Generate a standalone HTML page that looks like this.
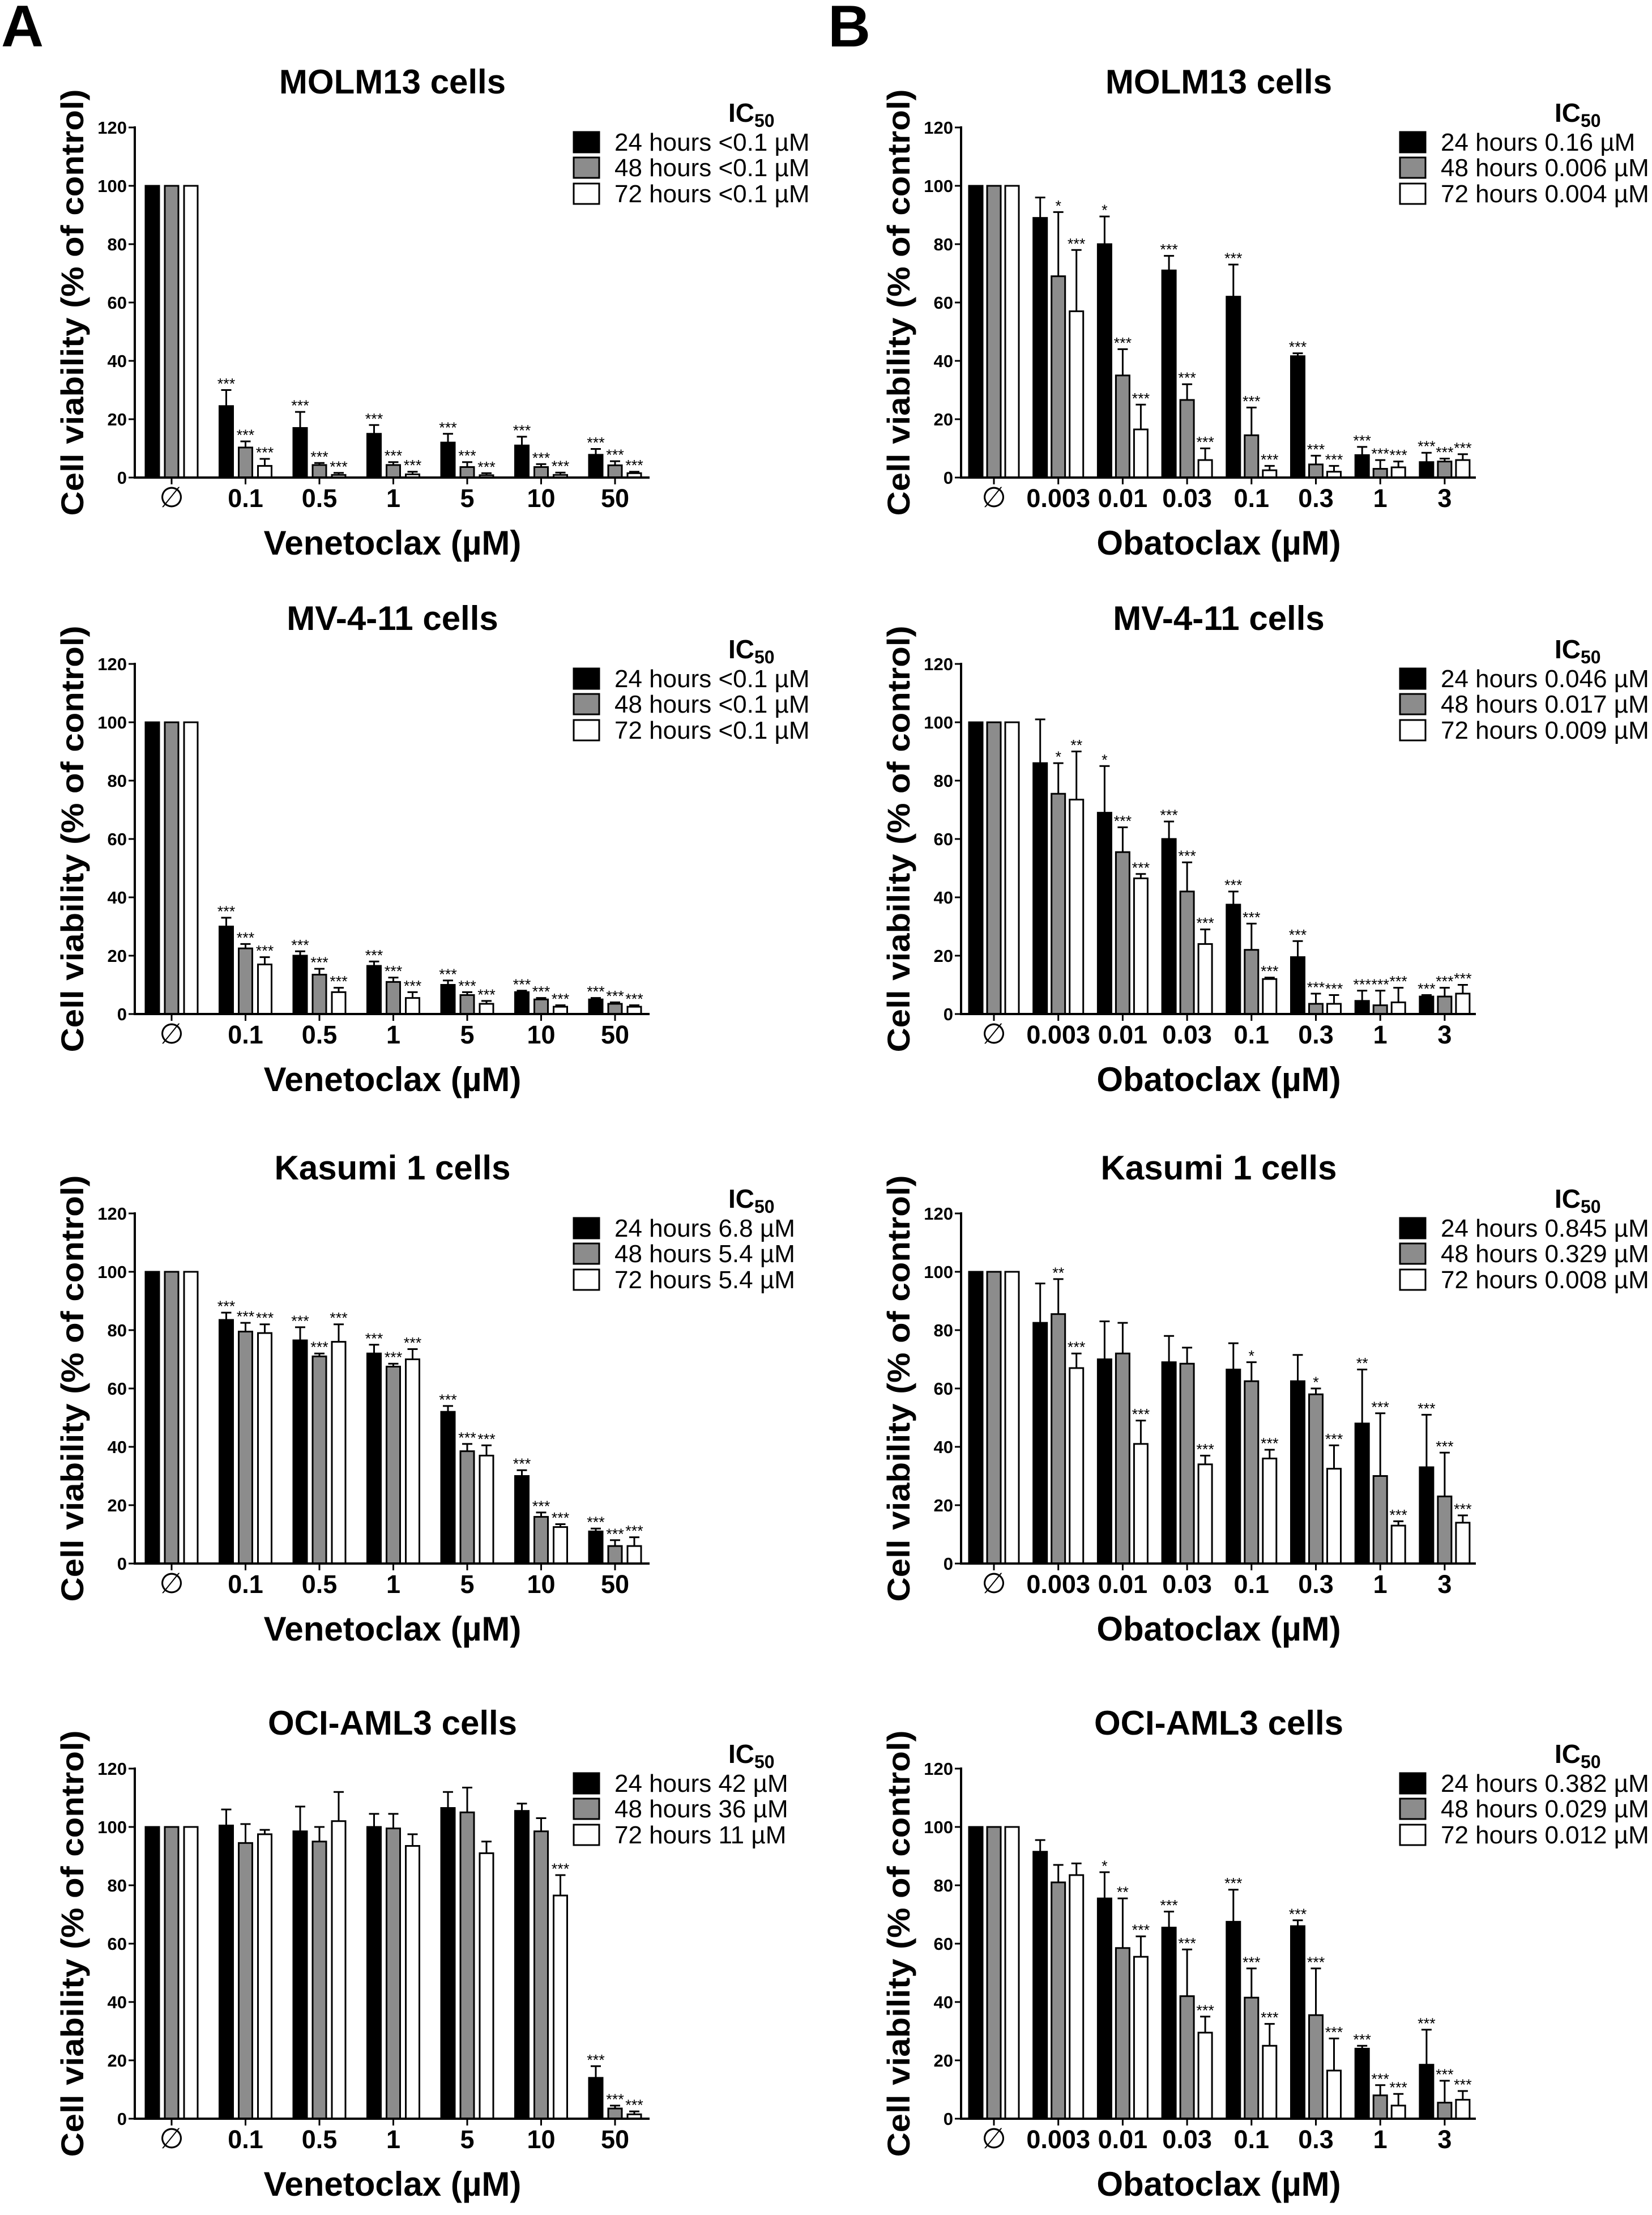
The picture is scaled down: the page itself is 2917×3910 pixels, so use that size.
<!DOCTYPE html>
<html><head><meta charset="utf-8"><title>Cell viability charts</title>
<style>
html,body{margin:0;padding:0;background:#fff;}
svg{display:block;font-family:"Liberation Sans",Arial,sans-serif;}
</style></head>
<body>
<svg id="fig" width="2917" height="3910" viewBox="0 0 2917 3910" xmlns="http://www.w3.org/2000/svg">
<text x="2" y="82" font-size="104" font-weight="bold">A</text>
<text x="1462" y="82" font-size="104" font-weight="bold">B</text>
</svg>
<script>
// ---------- data ----------
const venCats=["∅","0.1","0.5","1","5","10","50"];
const obaCats=["∅","0.003","0.01","0.03","0.1","0.3","1","3"];
const yTicks=[0,20,40,60,80,100,120];
const seriesNames=["24 hours","48 hours","72 hours"];

// MOLM13 venetoclax
const a1Mean24=[100,24.5,17,15,12,11,7.8];
const a1Err24=[100,30,22.5,18,15,14,9.8];
const a1Mean48=[100,10.3,4.3,4.3,3.6,3.6,4.2];
const a1Err48=[100,12.4,5,5.3,5.3,4.6,5.6];
const a1Mean72=[100,4,0.9,1.1,0.8,0.9,1.5];
const a1Err72=[100,6.4,1.6,2,1.5,1.7,2];
const a1Sig24=["","***","***","***","***","***","***"];
const a1Sig48=["","***","***","***","***","***","***"];
const a1Sig72=["","***","***","***","***","***","***"];
const a1Ic=["<0.1 µM","<0.1 µM","<0.1 µM"];

// MV-4-11 venetoclax
const a2Mean24=[100,30,20,16.5,10,7.5,5];
const a2Err24=[100,33,21.5,18,11.5,8,5.5];
const a2Mean48=[100,22.5,13.5,11,6.5,5,3.5];
const a2Err48=[100,24,15.5,12.5,7.5,5.5,4];
const a2Mean72=[100,17,7.5,5.5,3.5,2.5,2.5];
const a2Err72=[100,19.5,9,7.5,4.5,3,3];
const a2Sig24=["","***","***","***","***","***","***"];
const a2Sig48=["","***","***","***","***","***","***"];
const a2Sig72=["","***","***","***","***","***","***"];
const a2Ic=["<0.1 µM","<0.1 µM","<0.1 µM"];

// Kasumi 1 venetoclax
const a3Mean24=[100,83.5,76.5,72,52,30,11];
const a3Err24=[100,86,81,75,54,32,12];
const a3Mean48=[100,79.5,71,67.5,38.5,16,6];
const a3Err48=[100,82.5,72,68.5,41,17.5,8];
const a3Mean72=[100,79,76,70,37,12.5,6];
const a3Err72=[100,82,82,73.5,40.5,13.5,9];
const a3Sig24=["","***","***","***","***","***","***"];
const a3Sig48=["","***","***","***","***","***","***"];
const a3Sig72=["","***","***","***","***","***","***"];
const a3Ic=["6.8 µM","5.4 µM","5.4 µM"];

// OCI-AML3 venetoclax
const a4Mean24=[100,100.5,98.5,100,106.5,105.5,14];
const a4Err24=[100,106,107,104.5,112,108,18];
const a4Mean48=[100,94.5,95,99.5,105,98.5,3.5];
const a4Err48=[100,101,100,104.5,113.5,103,4.5];
const a4Mean72=[100,97.5,102,93.5,91,76.5,1.5];
const a4Err72=[100,99,112,97.5,95,83.5,2.5];
const a4Sig24=["","","","","","","***"];
const a4Sig48=["","","","","","","***"];
const a4Sig72=["","","","","","***","***"];
const a4Ic=["42 µM","36 µM","11 µM"];

// MOLM13 obatoclax
const b1Mean24=[100,89,80,71,62,41.6,7.7,5.3];
const b1Err24=[100,96,89.5,76,73,42.6,10.5,8.5];
const b1Mean48=[100,69,35,26.6,14.5,4.5,3,5.5];
const b1Err48=[100,91,44,32,24,7.5,6,6.5];
const b1Mean72=[100,57,16.5,6,2.5,2,3.5,6];
const b1Err72=[100,78,25,10,4,4,5.5,8];
const b1Sig24=["","","*","***","***","***","***","***"];
const b1Sig48=["","*","***","***","***","***","***","***"];
const b1Sig72=["","***","***","***","***","***","***","***"];
const b1Ic=["0.16 µM","0.006 µM","0.004 µM"];

// MV-4-11 obatoclax
const b2Mean24=[100,86,69,60,37.5,19.5,4.5,6];
const b2Err24=[100,101,85,66,42,25,8,6.5];
const b2Mean48=[100,75.5,55.5,42,22,3.5,3,6];
const b2Err48=[100,86,64,52,31,7,8,9];
const b2Mean72=[100,73.5,46.5,24,12,3.5,4,7];
const b2Err72=[100,90,48,29,12.5,6.5,9,10];
const b2Sig24=["","","*","***","***","***","***","***"];
const b2Sig48=["","*","***","***","***","***","***","***"];
const b2Sig72=["","**","***","***","***","***","***","***"];
const b2Ic=["0.046 µM","0.017 µM","0.009 µM"];

// Kasumi 1 obatoclax
const b3Mean24=[100,82.5,70,69,66.5,62.5,48,33];
const b3Err24=[100,96,83,78,75.5,71.5,66.5,51];
const b3Mean48=[100,85.5,72,68.5,62.5,58,30,23];
const b3Err48=[100,97.5,82.5,74,69,60,51.5,38];
const b3Mean72=[100,67,41,34,36,32.5,13,14];
const b3Err72=[100,72,49,37,39,40.5,14.5,16.5];
const b3Sig24=["","","","","","","**","***"];
const b3Sig48=["","**","","","*","*","***","***"];
const b3Sig72=["","***","***","***","***","***","***","***"];
const b3Ic=["0.845 µM","0.329 µM","0.008 µM"];

// OCI-AML3 obatoclax
const b4Mean24=[100,91.5,75.5,65.5,67.5,66,24,18.5];
const b4Err24=[100,95.5,84.5,71,78.5,68,25,30.5];
const b4Mean48=[100,81,58.5,42,41.5,35.5,8,5.5];
const b4Err48=[100,87,75.5,58,51.5,51.5,11.5,13];
const b4Mean72=[100,83.5,55.5,29.5,25,16.5,4.5,6.5];
const b4Err72=[100,87.5,62.5,35,32.5,27.5,8.5,9.5];
const b4Sig24=["","","*","***","***","***","***","***"];
const b4Sig48=["","","**","***","***","***","***","***"];
const b4Sig72=["","","***","***","***","***","***","***"];
const b4Ic=["0.382 µM","0.029 µM","0.012 µM"];

const panels=[
 {id:"a1",col:0,row:0,title:"MOLM13 cells",drug:"Venetoclax",cats:venCats,mean:[a1Mean24,a1Mean48,a1Mean72],err:[a1Err24,a1Err48,a1Err72],sig:[a1Sig24,a1Sig48,a1Sig72],ic:a1Ic},
 {id:"a2",col:0,row:1,title:"MV-4-11 cells",drug:"Venetoclax",cats:venCats,mean:[a2Mean24,a2Mean48,a2Mean72],err:[a2Err24,a2Err48,a2Err72],sig:[a2Sig24,a2Sig48,a2Sig72],ic:a2Ic},
 {id:"a3",col:0,row:2,title:"Kasumi 1 cells",drug:"Venetoclax",cats:venCats,mean:[a3Mean24,a3Mean48,a3Mean72],err:[a3Err24,a3Err48,a3Err72],sig:[a3Sig24,a3Sig48,a3Sig72],ic:a3Ic},
 {id:"a4",col:0,row:3,title:"OCI-AML3 cells",drug:"Venetoclax",cats:venCats,mean:[a4Mean24,a4Mean48,a4Mean72],err:[a4Err24,a4Err48,a4Err72],sig:[a4Sig24,a4Sig48,a4Sig72],ic:a4Ic},
 {id:"b1",col:1,row:0,title:"MOLM13 cells",drug:"Obatoclax",cats:obaCats,mean:[b1Mean24,b1Mean48,b1Mean72],err:[b1Err24,b1Err48,b1Err72],sig:[b1Sig24,b1Sig48,b1Sig72],ic:b1Ic},
 {id:"b2",col:1,row:1,title:"MV-4-11 cells",drug:"Obatoclax",cats:obaCats,mean:[b2Mean24,b2Mean48,b2Mean72],err:[b2Err24,b2Err48,b2Err72],sig:[b2Sig24,b2Sig48,b2Sig72],ic:b2Ic},
 {id:"b3",col:1,row:2,title:"Kasumi 1 cells",drug:"Obatoclax",cats:obaCats,mean:[b3Mean24,b3Mean48,b3Mean72],err:[b3Err24,b3Err48,b3Err72],sig:[b3Sig24,b3Sig48,b3Sig72],ic:b3Ic},
 {id:"b4",col:1,row:3,title:"OCI-AML3 cells",drug:"Obatoclax",cats:obaCats,mean:[b4Mean24,b4Mean48,b4Mean72],err:[b4Err24,b4Err48,b4Err72],sig:[b4Sig24,b4Sig48,b4Sig72],ic:b4Ic}
];

// ---------- layout ----------
const NS="http://www.w3.org/2000/svg";
const svg=document.getElementById("fig");
const colX=[238,1697];
const rowY0=[843,1790,2760,3740];
const plotW=909, plotH=618, yMax=120;
const fills=["#000000","#8c8c8c","#ffffff"];

function mk(tag,attrs,parent){
  const e=document.createElementNS(NS,tag);
  for(const k in attrs) e.setAttribute(k,attrs[k]);
  parent.appendChild(e);
  return e;
}

panels.forEach(p=>{
  const x0=colX[p.col], y0=rowY0[p.row];
  const g=mk("g",{},svg);
  
  
  const yS=v=>y0-v/yMax*plotH;
  const n=p.cats.length;
  const isVen=n===7;
  const first=isVen?65:58, step=isVen?130.5:113.7, off=isVen?34:32, bw=24;
  const xS=i=>x0+first+i*step;

  const t=mk("text",{x:x0+455,y:y0-678,"font-size":60,"font-weight":"bold","text-anchor":"middle"},g);
  
  
  t.textContent=p.title;

  const cy=y0-plotH/2, cx=x0-111;
  const yt=mk("text",{x:cx,y:cy,"font-size":56,"font-weight":"bold","text-anchor":"middle",transform:`rotate(-90 ${cx} ${cy}) translate(0 20)`,textLength:753,lengthAdjust:"spacingAndGlyphs"},g);
  
  
  yt.textContent="Cell viability (% of control)";

  const xt=mk("text",{x:x0+455,y:y0+136,"font-size":60,"font-weight":"bold","text-anchor":"middle"},g);
  
  
  xt.textContent=p.drug+" (µM)";

  yTicks.forEach(v=>{
    const tl=mk("line",{x1:x0-11,x2:x0,y1:yS(v),y2:yS(v),stroke:"#000","stroke-width":3},g);
    
    
    const tx=mk("text",{x:x0-14,y:yS(v)+11,"font-size":31,"font-weight":"bold","text-anchor":"end"},g);
    
    
    tx.textContent=v;
  });

  for(let i=0;i<n;i++){
    for(let s=0;s<3;s++){
      const cx2=xS(i)+(s-1)*off;
      const m=p.mean[s][i], e=p.err[s][i];
      const r=mk("rect",{x:cx2-bw/2,y:yS(m),width:bw,height:y0-yS(m),fill:fills[s],stroke:"#000","stroke-width":3},g);
      
      
      if(e>m){
        const el=mk("line",{x1:cx2,x2:cx2,y1:yS(m),y2:yS(e),stroke:"#000","stroke-width":3},g);
        
        
        const ec=mk("line",{x1:cx2-9,x2:cx2+9,y1:yS(e),y2:yS(e),stroke:"#000","stroke-width":3},g);
        
        
      }
      const sg=p.sig[s][i];
      if(sg){
        const st=mk("text",{x:cx2,y:yS(Math.max(e,m))-2,"font-size":27,"text-anchor":"middle"},g);
        
        
        st.textContent=sg;
      }
    }
    const xt2=mk("line",{x1:xS(i),x2:xS(i),y1:y0,y2:y0+12,stroke:"#000","stroke-width":3},g);
    
    
    const xl=mk("text",{x:xS(i),y:y0+52,"font-size":i===0?50:45,"font-weight":i===0?"normal":"bold","text-anchor":"middle"},g);
    
    
    xl.textContent=p.cats[i];
  }

  const ya=mk("line",{x1:x0,x2:x0,y1:y0-plotH-2,y2:y0+2,stroke:"#000","stroke-width":4},g);
  
  
  const xa=mk("line",{x1:x0-2,x2:x0+plotW,y1:y0,y2:y0,stroke:"#000","stroke-width":4},g);
  
  

  const ic=mk("text",{x:x0+1048,y:y0-628,"font-size":46,"font-weight":"bold"},g);
  
  
  ic.textContent="IC";
  const sub=mk("tspan",{"font-size":32,dy:9},ic);
  sub.textContent="50";
  const rowsC=[-592,-547,-501];
  for(let s=0;s<3;s++){
    const cyL=y0+rowsC[s];
    const lb=mk("rect",{x:x0+775,y:cyL-18,width:45,height:36,fill:fills[s],stroke:"#000","stroke-width":3},g);
    
    
    const lt=mk("text",{x:x0+847,y:cyL+15,"font-size":44},g);
    
    
    lt.textContent=seriesNames[s]+" "+p.ic[s];
  }
});
</script>
</body></html>
